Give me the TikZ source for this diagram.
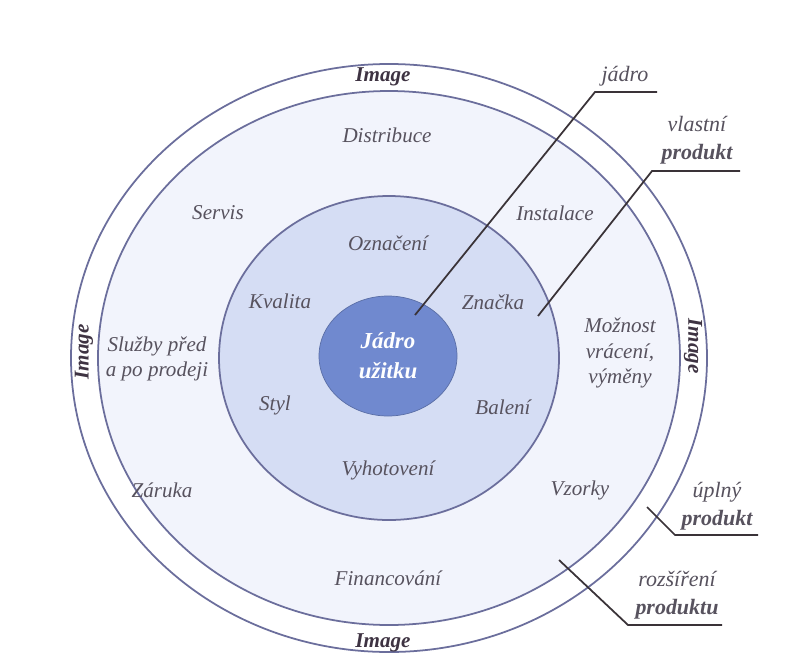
\documentclass[tikz,border=0pt]{standalone}
\usepackage{fontspec}
\setmainfont{Liberation Serif}
\usepackage{tikz}
\usetikzlibrary{calc,positioning}

\definecolor{ringline}{HTML}{6B6E9C}
\definecolor{extfill}{HTML}{F2F4FC}
\definecolor{ownfill}{HTML}{D5DDF4}
\definecolor{corefill}{HTML}{7089CF}
\definecolor{parttext}{HTML}{57525E}
\definecolor{imagetext}{HTML}{3E3342}
\definecolor{leaderline}{HTML}{3A3338}

\begin{document}
\begin{tikzpicture}[
    x=0.02cm, y=-0.02cm,
    ring/.style={draw=ringline,line width=1pt},
    part/.style={text=parttext,align=center,font=\fontsize{12}{14.5}\selectfont\itshape},
    imagelabel/.style={text=imagetext,font=\fontsize{12}{14}\selectfont\bfseries\itshape},
    corelabel/.style={text=white,align=center,font=\fontsize{13}{17}\selectfont\bfseries\itshape},
    leader/.style={draw=leaderline,line width=1pt},
    caption/.style={text=parttext,align=center,font=\fontsize{12.5}{16}\selectfont\itshape}
]

% Frame
\useasboundingbox (0,0) rectangle (807,659);
\fill[white] (0,0) rectangle (807,659);

% Centre of the rings
\coordinate (mid) at (389,358);
\coordinate (core) at (388,356);

% ===== Rings =====
\draw[ring,fill=white]   (mid) ellipse[x radius=318, y radius=294];
\draw[ring,fill=extfill] (mid) ellipse[x radius=291, y radius=267];
\draw[ring,fill=ownfill] (mid) ellipse[x radius=170, y radius=162];
\draw[draw=corefill!80!black,fill=corefill] (core) ellipse[x radius=69, y radius=60];

% Image (outer ring)
\node[imagelabel] (imgtop) at (383,77) {Image};
\node[imagelabel] (imgbot) at (383,643) {Image};
\node[imagelabel,rotate=90] (imgleft) at (84,352) {Image};
\node[imagelabel,rotate=-90] (imgright) at (693,346) {Image};

% Core
\node[corelabel] (jadro) at (core) {Jádro\\užitku};

% Product itself
\node[part] (oznaceni) at (388,243) {Označení};
\node[part] (kvalita) at (280,301) {Kvalita};
\node[part] (znacka) at (493,302) {Značka};
\node[part] (styl) at (275,405) {Styl};
\node[part] (baleni) at (503,407) {Balení};
\node[part] (vyhotoveni) at (388,470) {Vyhotovení};

% Extension
\node[part] (distribuce) at (387,135) {Distribuce};
\node[part] (servis) at (218,213) {Servis};
\node[part] (instalace) at (555,213) {Instalace};
\node[part] (sluzby) at (157,359) {Služby před\\a po prodeji};
\node[part] (moznost) at (620,353) {Možnost\\vrácení,\\výměny};
\node[part] (zaruka) at (162,490) {Záruka};
\node[part] (vzorky) at (580,490) {Vzorky};
\node[part] (financovani) at (388,578) {Financování};

% ===== Leaders =====
\coordinate (jadroA) at (415,315);
\coordinate (jadroB) at (595,92);
\coordinate (jadroC) at (657,92);
\draw[leader] (jadroA) -- (jadroB) -- (jadroC);
\node[caption] (jadrocap) at (625,76) {jádro};

\coordinate (vlastA) at (538,316);
\coordinate (vlastB) at (652,171);
\coordinate (vlastC) at (740,171);
\draw[leader] (vlastA) -- (vlastB) -- (vlastC);
\node[caption] (vlastcap) at (697,140) {vlastní\\\textbf{produkt}};

\coordinate (uplA) at (647,507);
\coordinate (uplB) at (675,535);
\coordinate (uplC) at (758,535);
\draw[leader] (uplA) -- (uplB) -- (uplC);
\node[caption] (uplcap) at (717,506) {úplný\\\textbf{produkt}};

\coordinate (rozA) at (559,560);
\coordinate (rozB) at (628,625);
\coordinate (rozC) at (722,625);
\draw[leader] (rozA) -- (rozB) -- (rozC);
\node[caption] (rozcap) at (677,595) {rozšíření\\\textbf{produktu}};

\end{tikzpicture}
\end{document}
